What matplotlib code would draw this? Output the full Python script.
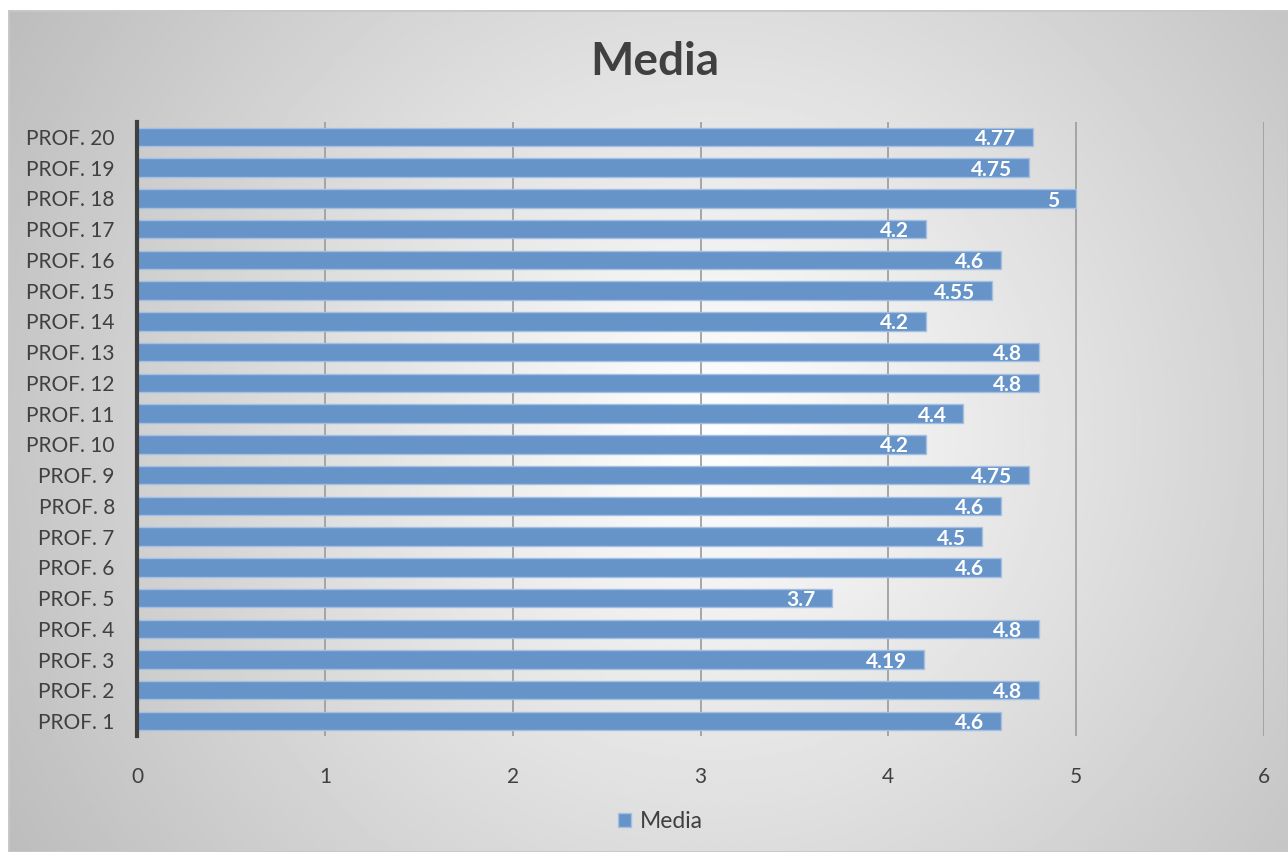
import numpy as np
import matplotlib.pyplot as plt
from matplotlib.patches import Rectangle

# datos
profesores = ['PROF. %d' % i for i in range(1, 21)]
media = [4.6, 4.8, 4.19, 4.8, 3.7, 4.6, 4.5, 4.6, 4.75, 4.2,
         4.4, 4.8, 4.8, 4.2, 4.55, 4.6, 4.2, 5, 4.75, 4.77]
etiquetas = ['4.6', '4.8', '4.19', '4.8', '3.7', '4.6', '4.5', '4.6', '4.75', '4.2',
             '4.4', '4.8', '4.8', '4.2', '4.55', '4.6', '4.2', '5', '4.75', '4.77']
xticks = [0, 1, 2, 3, 4, 5, 6]

plt.rcParams['font.family'] = ['Lato', 'DejaVu Sans']

fig = plt.figure(figsize=(12.88, 8.52), dpi=100)
fig.patch.set_facecolor('white')

# fondo con degradado radial
bg = fig.add_axes([8 / 1288, 0, 1 - 8 / 1288, 1 - 10 / 852], zorder=0)
xx, yy = np.meshgrid(np.linspace(0, 1, 400), np.linspace(0, 1, 300))
r = np.sqrt(((xx - 0.55) * 1.5) ** 2 + (yy - 0.5) ** 2)
v = 1.0 - 0.26 * (r / r.max()) ** 1.0
bg.imshow(v, cmap='gray', vmin=0, vmax=1, extent=[0, 1, 0, 1], aspect='auto', origin='lower')
bg.add_patch(Rectangle((0, 0), 1, 1, transform=bg.transAxes, fill=False,
                       edgecolor='#c8c8c8', linewidth=2))
bg.set_axis_off()

ax = fig.add_axes([137 / 1288, 0.1357, (1264 - 137) / 1288, 0.8573 - 0.1357], zorder=1)
ax.patch.set_alpha(0)

y = np.arange(len(profesores))
barras = ax.barh(y, media, height=0.6, color='#6794c8', edgecolor='#a3c0e2', linewidth=1,
                 zorder=3, label='Media')

for xi, yi, txt in zip(media, y, etiquetas):
    ax.annotate(txt, (xi, yi), xytext=(-12, -1.5), textcoords='offset points',
                ha='right', va='center', color='white', fontsize=15, fontweight='bold', zorder=4)

ax.set_xlim(0, 6)
ax.set_ylim(-0.5, len(profesores) - 0.5)
ax.set_xticks(xticks)
ax.set_yticks(y)
ax.set_yticklabels(profesores)
ax.tick_params(length=0, labelsize=15, labelcolor='#404040')
ax.tick_params(axis='x', pad=22)
ax.tick_params(axis='y', pad=16)

for xv in xticks[1:]:
    ax.axvline(xv, color='#a0a0a0', linewidth=1.3, zorder=1)

for s in ['top', 'right', 'bottom']:
    ax.spines[s].set_visible(False)
ax.spines['left'].set_color('#404040')
ax.spines['left'].set_linewidth(3)
ax.spines['left'].set_zorder(5)

fig.text(0.508, 0.927, 'Media', ha='center', va='center', fontsize=33,
         fontweight='bold', color='#404040')

leg = ax.legend(handles=[barras], loc='center',
                bbox_to_anchor=((660 - 137) / 1127, (852 - 821 - 116) / (736.4 - 121.6)),
                frameon=False, fontsize=16.5, handlelength=0.6, handleheight=0.6,
                handletextpad=0.35)
for t in leg.get_texts():
    t.set_color('#404040')

plt.savefig('out.png', dpi=100, facecolor=fig.get_facecolor())
